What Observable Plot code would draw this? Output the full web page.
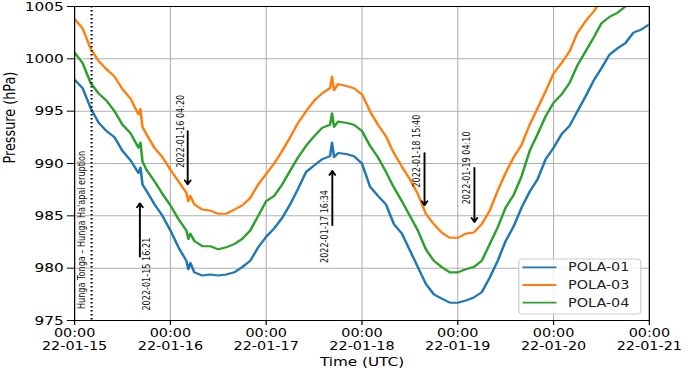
<!DOCTYPE html>
<html>
<head>
<meta charset="utf-8">
<script src="https://cdn.jsdelivr.net/npm/d3@7"></script>
<script src="https://cdn.jsdelivr.net/npm/@observablehq/plot@0.6"></script>
<style>
html, body { margin: 0; padding: 0; background: #fff; }
#chart { width: 685px; height: 369px; overflow: hidden; }
</style>
</head>
<body>
<div id="chart"></div>
<script>
// ---- data ----
const stations = ["POLA-01", "POLA-03", "POLA-04"];
const colors = ["#1f77b4", "#ff7f0e", "#2ca02c"];
// hours after 2022-01-15 00:00 UTC
const hours = [0,2,4,6,8,10,12,14,16,16.5,17,18,20,22,24,26,28,28.5,29,
  30,32,34,36,38,40,42,44,46,48,50,52,54,56,58,60,62,64,64.5,65,
  66,68,70,72,74,76,78,80,82,84,86,88,90,92,94,96,98,100,102,104,106,108,110,112,114,116,118,120,122,124,126,128,130,132,134,136,138,140,142,144];
const pola01 = [998.0,997.2,995.3,993.9,993.1,992.5,991.2,990.3,989.1,989.6,988.0,987.4,986.1,985.0,983.6,982.0,980.7,979.9,980.5,
  979.6,979.3,979.4,979.3,979.4,979.6,980.1,980.7,982.0,983.0,983.8,984.8,986.1,987.6,989.2,989.8,990.4,990.7,992.0,990.6,
  991.0,990.9,990.7,990.0,987.8,986.9,986.1,984.2,983.3,981.7,980.1,978.5,977.5,977.1,976.7,976.7,976.9,977.2,977.7,979.1,980.7,982.6,984.0,985.8,987.3,988.5,990.4,991.5,992.8,993.6,995.0,996.4,997.9,999.1,1000.4,1001.0,1001.5,1002.5,1002.8,1003.3];
const pola03 = [1003.8,1002.9,1001.0,999.8,999.0,998.3,997.1,996.2,994.7,995.2,993.5,992.8,991.5,990.6,989.4,988.3,987.2,986.4,986.9,
  986.1,985.6,985.5,985.2,985.2,985.6,986.0,986.7,988.0,989.0,990.0,991.2,992.5,993.9,995.0,996.0,996.7,997.2,998.3,997.0,
  997.6,997.4,997.2,996.6,995.0,993.7,992.6,991.0,989.7,988.5,987.1,985.2,984.2,983.4,982.9,982.9,983.3,983.4,984.2,985.5,987.4,989.1,990.6,991.8,993.7,995.3,996.9,998.6,999.6,1000.7,1002.5,1003.6,1004.5,1005.6,1006.3,1007.0,1007.6,1008.2,1008.8,1009.3];
const pola04 = [1000.6,999.6,997.7,996.7,996.0,995.0,993.7,992.9,991.5,992.0,990.2,989.4,988.3,987.1,986.0,984.7,983.6,982.8,983.3,
  982.6,982.1,982.1,981.8,982.0,982.3,982.8,983.6,985.0,986.4,986.9,988.0,989.3,990.6,991.7,992.6,993.4,993.7,994.8,993.5,
  994.0,993.9,993.7,993.1,991.7,990.6,989.2,987.7,986.4,985.0,983.6,981.8,980.7,980.1,979.6,979.6,979.9,980.1,980.7,982.3,983.9,985.8,987.0,988.8,991.2,992.8,994.5,995.8,996.6,997.7,999.4,1000.7,1002.0,1003.4,1004.0,1004.4,1005.0,1005.6,1006.1,1006.6];

const xTickDates = ["2022-01-15","2022-01-16","2022-01-17","2022-01-18","2022-01-19","2022-01-20","2022-01-21"];
const yTicks = [975, 980, 985, 990, 995, 1000, 1005];

const eruptionTime = "2022-01-15T04:15:00Z";
const eruptionLabel = "Hunga Tonga – Hunga Ha'apai eruption";
const eruptionLabelValue = 976.1;

const annotTimes = ["2022-01-15T16:21:00Z","2022-01-16T04:20:00Z","2022-01-17T16:34:00Z","2022-01-18T15:40:00Z","2022-01-19T04:10:00Z"];
const annotLabels = ["2022-01-15 16:21","2022-01-16 04:20","2022-01-17 16:34","2022-01-18 15:40","2022-01-19 04:10"];
const arrowFrom = [981.1, 993.1, 984.1, 991.0, 989.6];
const arrowTo   = [986.2, 988.0, 989.3, 986.0, 984.4];
const labelValue = [975.95, 989.6, 980.5, 987.7, 986.1];
const labelOnRight = [true, false, false, false, false];

// ---- build tables ----
const t0 = Date.UTC(2022, 0, 15);
const series = [pola01, pola03, pola04];
const rows = stations.flatMap((s, k) => hours.map((h, i) => ({time: new Date(t0 + h * 3600e3), value: series[k][i], station: s})));
const xTicks = xTickDates.map(d => new Date(d + "T00:00:00Z"));
const annots = annotTimes.map((t, i) => ({time: new Date(t), from: arrowFrom[i], to: arrowTo[i], label: annotLabels[i], ly: labelValue[i], right: labelOnRight[i]}));
const eruption = [{time: new Date(eruptionTime), y: eruptionLabelValue, label: eruptionLabel}];

// layout (user units; the svg is stretched horizontally like the reference)
const W = 571, H = 369, OUTW = 685;
const mL = 61.7, mR = 30.2, mT = 6, mB = 49;
const fmt = d3.utcFormat("%y-%m-%d");
const font = "DejaVu Sans, sans-serif";
const annFont = 8.1;

const chart = Plot.plot({
  width: W, height: H,
  marginLeft: mL, marginRight: mR, marginTop: mT, marginBottom: mB,
  style: {fontFamily: font, fontSize: "12px", color: "#000", background: "#fff"},
  x: {type: "utc", domain: [xTicks[0], xTicks[xTicks.length - 1]]},
  y: {domain: [975, 1005]},
  color: {domain: stations, range: colors},
  marks: [
    Plot.ruleX(xTicks, {stroke: "#b0b0b0", strokeWidth: 0.9}),
    Plot.ruleY(yTicks, {stroke: "#b0b0b0", strokeWidth: 1}),
    Plot.line(rows, {x: "time", y: "value", z: "station", stroke: "station", strokeWidth: 2.1, clip: true}),
    Plot.ruleX(eruption, {x: "time", stroke: "black", strokeWidth: 1.7, strokeDasharray: "1.6,2.4"}),
    Plot.text(eruption, {x: "time", y: "y", text: "label", rotate: -90, textAnchor: "start", lineAnchor: "middle", dx: -7.8, fontSize: annFont, fill: "#111"}),
    Plot.arrow(annots, {x1: "time", x2: "time", y1: "from", y2: "to", stroke: "black", strokeWidth: 1.6, headLength: 4.5}),
    Plot.text(annots.filter(a => a.right), {x: "time", y: "ly", text: "label", rotate: -90, textAnchor: "start", lineAnchor: "middle", dx: 5.6, fontSize: annFont, fill: "#111"}),
    Plot.text(annots.filter(a => !a.right), {x: "time", y: "ly", text: "label", rotate: -90, textAnchor: "start", lineAnchor: "middle", dx: -6, fontSize: annFont, fill: "#111"}),
    Plot.frame({stroke: "black", strokeWidth: 1}),
    Plot.axisX({ticks: xTicks, tickFormat: d => "00:00\n" + fmt(d), tickSize: 5, tickPadding: 3, label: null, fontSize: 12, lineHeight: 1.05}),
    Plot.axisY({ticks: yTicks, tickFormat: d => String(d), tickSize: 6, tickPadding: 3, label: null, fontSize: 12.8}),
    Plot.text(["Time (UTC)"], {frameAnchor: "bottom", dy: 41, lineAnchor: "middle", fontSize: 12.7}),
    Plot.text(["Pressure (hPa)"], {frameAnchor: "left", rotate: -90, dx: -53.4, lineAnchor: "middle", fontSize: 12.8})
  ]
});

// legend inside the frame, lower right
const svg = d3.select(chart);
const bw = 101.7, bh = 55;
const bx = W - mR - 6.6 - bw, by = H - mB - 6 - bh;
const lg = svg.append("g").attr("font-family", font).attr("font-size", 12).attr("text-anchor", "start");
lg.append("rect").attr("x", bx).attr("y", by).attr("width", bw).attr("height", bh)
  .attr("rx", 3).attr("fill", "white").attr("fill-opacity", 0.85).attr("stroke", "#cccccc");
stations.forEach((s, i) => {
  const yy = by + 8.3 + i * 17.7;
  lg.append("line").attr("x1", bx + 3).attr("x2", bx + 31.4).attr("y1", yy).attr("y2", yy)
    .attr("stroke", colors[i]).attr("stroke-width", 1.8);
  lg.append("text").attr("x", bx + 41).attr("y", yy).attr("dy", "0.35em").attr("text-anchor", "start").attr("fill", "#222").text(s);
});

// stretch horizontally to the reference's aspect
chart.setAttribute("viewBox", `0 0 ${W} ${H}`);
chart.setAttribute("width", OUTW);
chart.setAttribute("height", H);
chart.setAttribute("preserveAspectRatio", "none");
chart.style.width = OUTW + "px";
chart.style.height = H + "px";
chart.style.maxWidth = "none";
document.getElementById("chart").appendChild(chart);
</script>
</body>
</html>
